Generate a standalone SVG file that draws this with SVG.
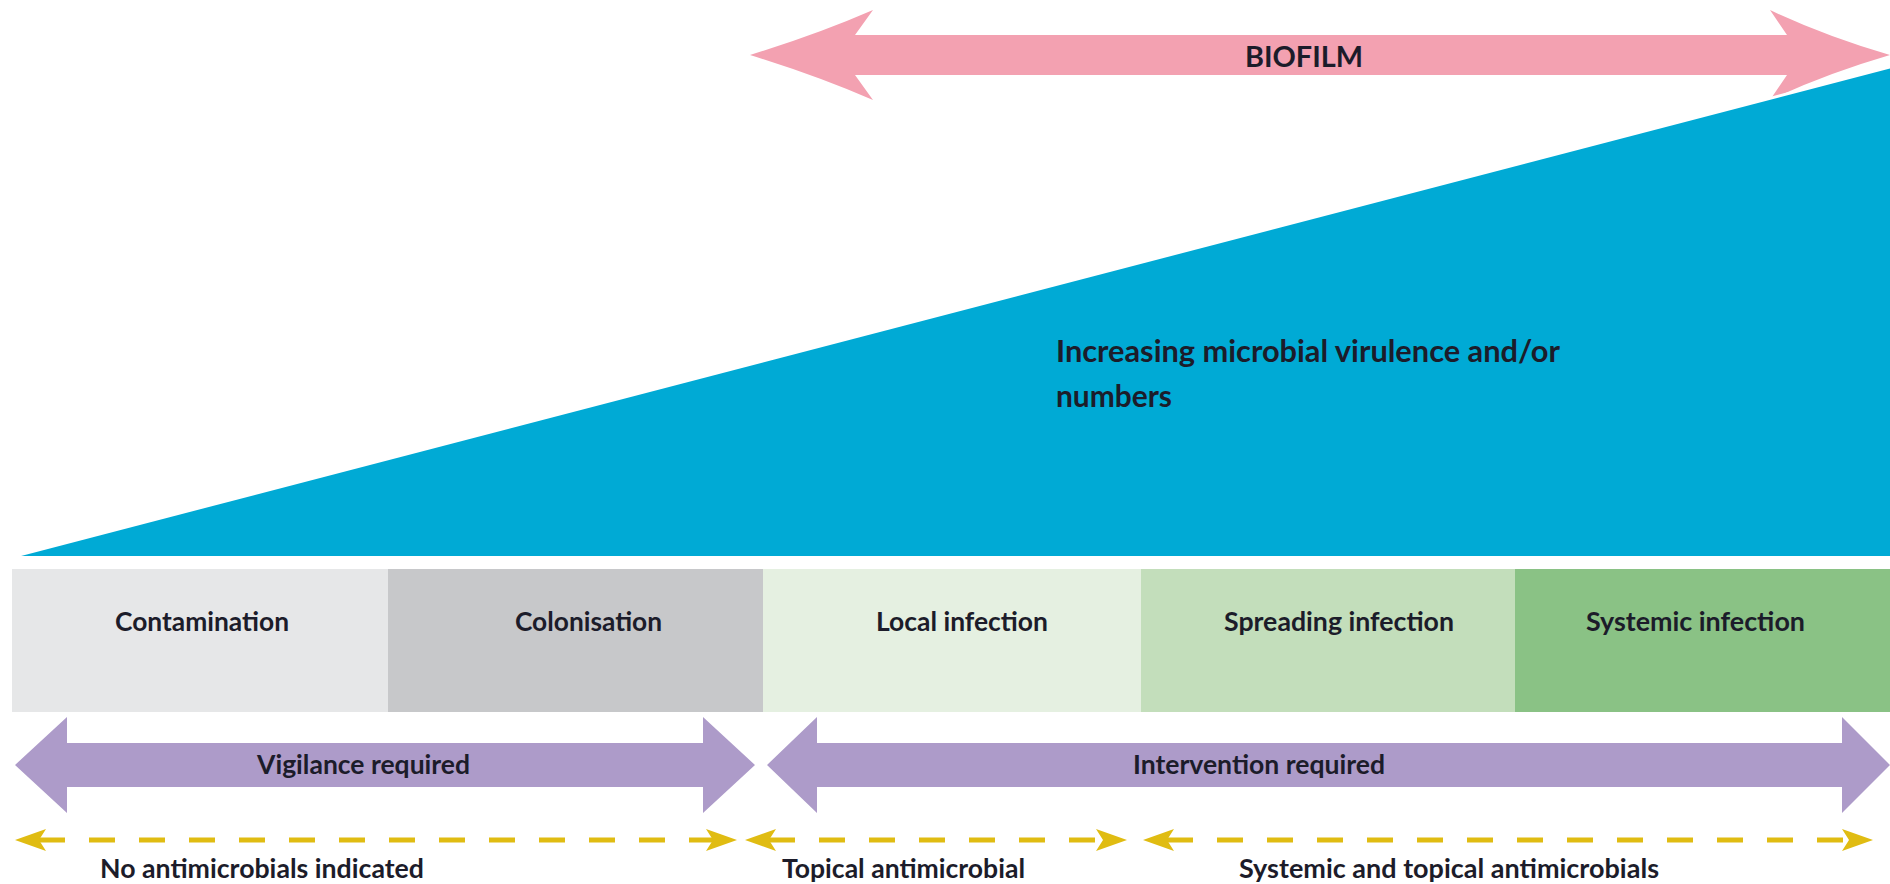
<svg xmlns="http://www.w3.org/2000/svg" width="1890" height="884" viewBox="0 0 1890 884">
  <defs>
    <style>
      .lbl { font-family: Lato, "Open Sans", "Liberation Sans", sans-serif; font-weight: 700; fill: #1c1c2a; }
      .box-lbl { font-size: 27px; }
      .arrow-lbl { font-size: 26px; }
      .drug-lbl { font-size: 26px; }
      .yellow { stroke: #E0BC12; stroke-width: 5; fill: none; stroke-dasharray: 26 24; }
    </style>
    <marker id="yhead" markerUnits="userSpaceOnUse" markerWidth="32" markerHeight="26" viewBox="0 0 32 26" refX="7" refY="13" orient="auto-start-reverse">
      <path d="M0,2 L31,13 L0,24 L7,13 Z" fill="#E0BC12"/>
    </marker>
  </defs>

  <rect width="1890" height="884" fill="#ffffff"/>

  <!-- Biofilm double arrow -->
  <g id="biofilm">
    <path d="M750,55 Q818,34 873,10 L855,35 L1787,35 L1770,10 Q1825,36 1890,55 Q1825,74 1770,100 L1787,75 L855,75 L873,100 Q818,76 750,55 Z" fill="#F3A1B1"/>
    <text class="lbl" x="1304" y="67" font-size="29" text-anchor="middle" textLength="118" lengthAdjust="spacingAndGlyphs">BIOFILM</text>
  </g>

  <!-- Rising wedge: microbial load -->
  <g id="virulence">
    <polygon points="15,556 1890,67 1890,556" fill="#00AAD5"/>
    <line x1="15" y1="556" x2="1890" y2="67" stroke="#ffffff" stroke-width="3"/>
    <text class="lbl" x="1056" y="362" font-size="30" textLength="504" lengthAdjust="spacingAndGlyphs">Increasing microbial virulence and/or</text>
    <text class="lbl" x="1056" y="407" font-size="30" textLength="116" lengthAdjust="spacingAndGlyphs">numbers</text>
  </g>

  <!-- Wound continuum stages -->
  <g id="contamination">
    <rect x="12" y="569" width="376" height="143" fill="#E6E7E8"/>
    <text class="lbl box-lbl" x="115" y="631" textLength="174" lengthAdjust="spacingAndGlyphs">Contamination</text>
  </g>
  <g id="colonisation">
    <rect x="388" y="569" width="375" height="143" fill="#C7C8CA"/>
    <text class="lbl box-lbl" x="515" y="631" textLength="147" lengthAdjust="spacingAndGlyphs">Colonisation</text>
  </g>
  <g id="local-infection">
    <rect x="763" y="569" width="378" height="143" fill="#E5F0E1"/>
    <text class="lbl box-lbl" x="876" y="631" textLength="172" lengthAdjust="spacingAndGlyphs">Local infection</text>
  </g>
  <g id="spreading-infection">
    <rect x="1141" y="569" width="374" height="143" fill="#C3DEBB"/>
    <text class="lbl box-lbl" x="1224" y="631" textLength="230" lengthAdjust="spacingAndGlyphs">Spreading infection</text>
  </g>
  <g id="systemic-infection">
    <rect x="1515" y="569" width="375" height="143" fill="#8AC285"/>
    <text class="lbl box-lbl" x="1586" y="631" textLength="219" lengthAdjust="spacingAndGlyphs">Systemic infection</text>
  </g>

  <!-- Action arrows -->
  <g id="vigilance">
    <polygon points="15,765 67,717 67,743 703,743 703,717 755,765 703,813 703,787 67,787 67,813" fill="#AD9BC9"/>
    <text class="lbl arrow-lbl" x="257" y="774" textLength="213" lengthAdjust="spacingAndGlyphs">Vigilance required</text>
  </g>
  <g id="intervention">
    <polygon points="767,765 817,717 817,743 1842,743 1842,717 1890,765 1842,813 1842,787 817,787 817,813" fill="#AD9BC9"/>
    <text class="lbl arrow-lbl" x="1133" y="774" textLength="252" lengthAdjust="spacingAndGlyphs">Intervention required</text>
  </g>

  <!-- Treatment ranges -->
  <g id="connectors">
    <line class="yellow" x1="39" y1="840" x2="713" y2="840" marker-start="url(#yhead)" marker-end="url(#yhead)"/>
    <line class="yellow" x1="769" y1="840" x2="1103" y2="840" marker-start="url(#yhead)" marker-end="url(#yhead)"/>
    <line class="yellow" x1="1167" y1="840" x2="1849" y2="840" marker-start="url(#yhead)" marker-end="url(#yhead)"/>
  </g>

  <g id="treatment-labels">
    <text class="lbl drug-lbl" x="100" y="878" textLength="324" lengthAdjust="spacingAndGlyphs">No antimicrobials indicated</text>
    <text class="lbl drug-lbl" x="782" y="878" textLength="243" lengthAdjust="spacingAndGlyphs">Topical antimicrobial</text>
    <text class="lbl drug-lbl" x="1239" y="878" textLength="420" lengthAdjust="spacingAndGlyphs">Systemic and topical antimicrobials</text>
  </g>
</svg>
